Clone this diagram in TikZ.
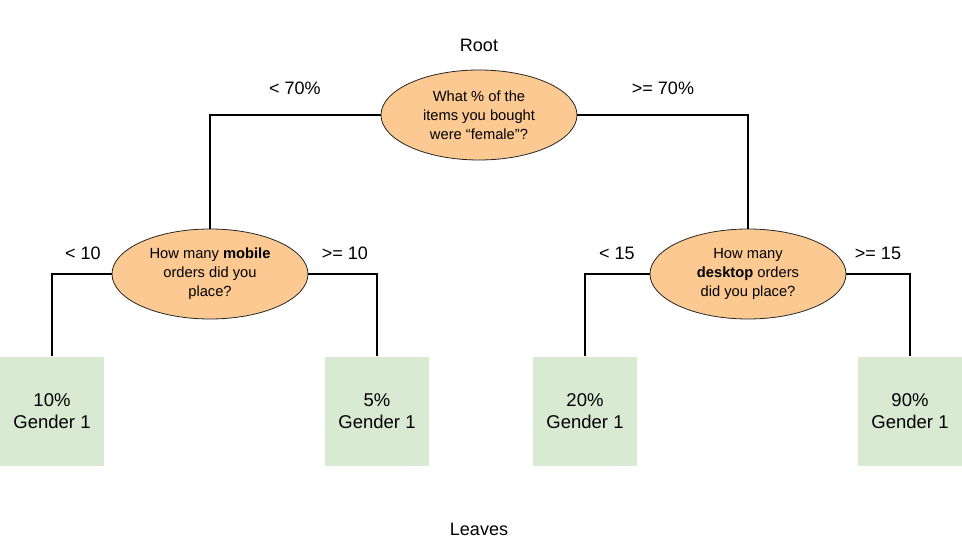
\documentclass[tikz,border=0pt]{standalone}
\usepackage{fontspec}
\setmainfont{Liberation Sans}
\usepackage{xcolor}
\usepackage{tikz}
\usetikzlibrary{positioning,shapes.geometric}

\definecolor{splitfill}{HTML}{FBC991}
\definecolor{leaffill}{HTML}{D9EAD3}

\begin{document}
\begin{tikzpicture}[
  x=1pt,y=1pt,
  split/.style={ellipse,draw=black!85,line width=0.8pt,fill=splitfill,minimum width=196pt,minimum height=90pt,inner sep=0pt,align=center,font=\fontsize{14.7}{19}\selectfont},
  leaf/.style={rectangle,fill=leaffill,minimum width=104pt,minimum height=109pt,inner sep=0pt,align=center,font=\fontsize{18.5}{22.5}\selectfont},
  cond/.style={font=\fontsize{18}{21}\selectfont},
  line/.style={draw=black,line width=2.5pt}
]
\useasboundingbox (0,0) rectangle (962,-556);

\node[cond] (roottitle) at (479,-45) {Root};
\node[cond] (leavestitle) at (479,-529) {Leaves};

\node[split] (root) at (479,-115) {What \% of the\\items you bought\\were “female”?};
\node[split] (mobile) at (210,-274) {How many \textbf{mobile}\\orders did you\\place?};
\node[split] (desktop) at (748,-274) {How many\\\textbf{desktop} orders\\did you place?};

\node[leaf] (leafa) at (52,-411) {10\%\\Gender 1};
\node[leaf] (leafb) at (377,-411) {5\%\\Gender 1};
\node[leaf] (leafc) at (585,-411) {20\%\\Gender 1};
\node[leaf] (leafd) at (910,-411) {90\%\\Gender 1};

\node[cond] (lt70) at (295,-88) {< 70\%};
\node[cond] (ge70) at (663,-88) {>= 70\%};
\node[cond] (lt10) at (83,-253) {< 10};
\node[cond] (ge10) at (345,-253) {>= 10};
\node[cond] (lt15) at (617,-253) {< 15};
\node[cond] (ge15) at (878,-253) {>= 15};

\draw[line] (root.west) -| (mobile.north);
\draw[line] (root.east) -| (desktop.north);
\draw[line] (mobile.west) -| (leafa.north);
\draw[line] (mobile.east) -| (leafb.north);
\draw[line] (desktop.west) -| (leafc.north);
\draw[line] (desktop.east) -| (leafd.north);
\end{tikzpicture}
\end{document}
